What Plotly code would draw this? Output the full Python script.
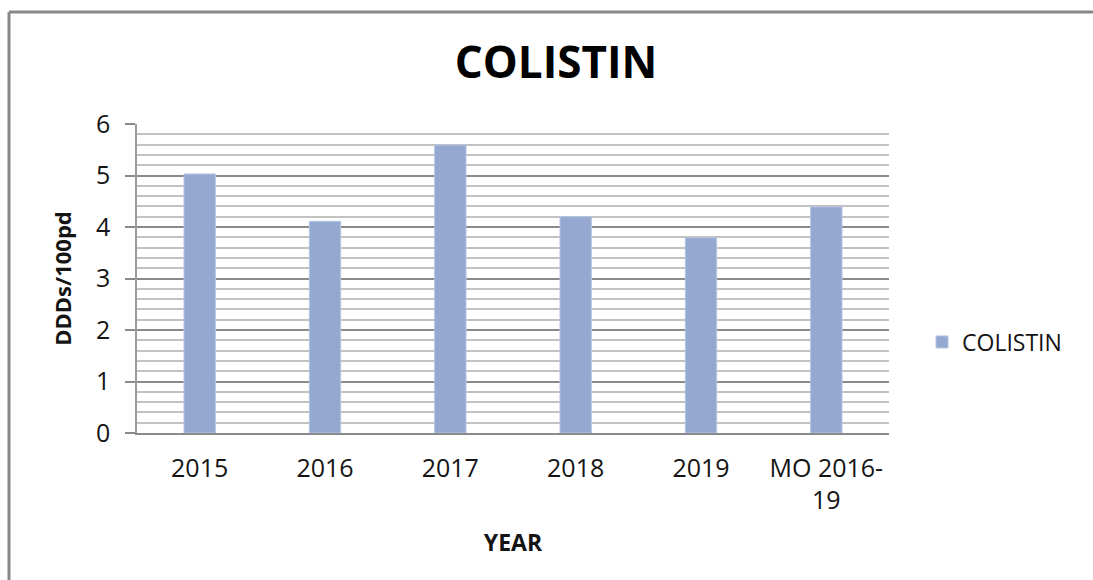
import plotly.graph_objects as go

# Colistin consumption per year (DDDs per 100 patient-days)
categories = ["2015", "2016", "2017", "2018", "2019", "MO 2016-<br>19"]
colistin = [5.03, 4.11, 5.59, 4.2, 3.79, 4.39]
y_ticks = [0, 1, 2, 3, 4, 5, 6]

FONT = "Open Sans"
TEXT = "#141414"

fig = go.Figure()
fig.add_trace(go.Bar(
    x=categories,
    y=colistin,
    name="COLISTIN",
    marker=dict(color="#94a8d0", line=dict(color="#b4c4e2", width=1)),
))

W, H = 1093, 580
L, R, T, B = 137, 204, 124, 147
pw, ph = W - L - R, H - T - B

# frame around the chart (left and top edges)
bx = (9 - L) / pw
by = (H - B - 12) / ph
fig.add_shape(type="line", xref="paper", yref="paper",
              x0=bx, x1=bx, y0=-B / ph - 0.1, y1=by,
              line=dict(color="#888888", width=3))
fig.add_shape(type="line", xref="paper", yref="paper",
              x0=bx, x1=(W - L) / pw + 0.1, y0=by, y1=by,
              line=dict(color="#888888", width=3))

fig.update_layout(
    width=W, height=H,
    margin=dict(l=L, r=R, t=T, b=B),
    paper_bgcolor="white", plot_bgcolor="white",
    font=dict(family=FONT, color=TEXT),
    bargap=0.75,
    title=dict(text="<b>COLISTIN</b>", x=(556 - L) / pw, xref="paper",
               xanchor="center", y=1 - 63 / H, yanchor="middle",
               font=dict(size=44, family=FONT, color="#000000")),
    showlegend=True,
    legend=dict(x=(922 - L) / pw, y=(H - B - 342) / ph, xanchor="left",
                yanchor="middle", font=dict(size=23, family=FONT, color=TEXT),
                itemwidth=30, bgcolor="rgba(0,0,0,0)"),
    xaxis=dict(
        showline=True, linecolor="#8a8a8a", linewidth=1.5,
        showgrid=False, ticks="", tickfont=dict(size=25, family=FONT, color=TEXT),
        ticklabelstandoff=12,
        title=dict(text="<b>YEAR</b>", font=dict(size=23, family=FONT, color=TEXT),
                   standoff=20),
    ),
    yaxis=dict(
        range=[0, 6], tickvals=y_ticks, showline=True, linecolor="#9a9a9a",
        linewidth=1.5, ticks="outside", ticklen=10, tickcolor="#8a8a8a",
        tickwidth=1.5, showgrid=True, gridcolor="#8a8a8a", gridwidth=1.5,
        zeroline=False,
        minor=dict(dtick=0.2, showgrid=True, gridcolor="#c2c2c2", gridwidth=1.5),
        tickfont=dict(size=25, family=FONT, color=TEXT), ticklabelstandoff=10,
        title=dict(text="<b>DDDs/100pd</b>", font=dict(size=22, family=FONT, color=TEXT),
                   standoff=18),
    ),
)

fig.write_html("out.html")
